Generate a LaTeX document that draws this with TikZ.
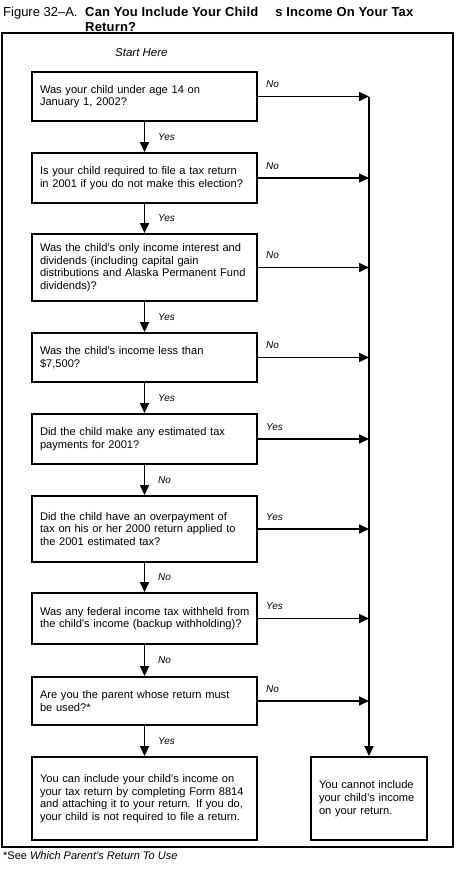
\documentclass[tikz,border=0pt]{standalone}
\usepackage{fontspec}
\setmainfont{Liberation Sans}
\usetikzlibrary{arrows.meta,calc}
\begin{document}
\begin{tikzpicture}[x=1pt,y=-1pt,
  qbox/.style={draw, line width=2pt, minimum width=225pt, text width=209pt, inner xsep=8pt, inner ysep=0pt, align=left, font=\fontsize{11.1}{12.7}\selectfont},
  rbox/.style={draw, line width=2pt, minimum width=116pt, text width=100pt, inner xsep=8pt, inner ysep=0pt, align=left, font=\fontsize{11.1}{12.7}\selectfont},
  lab/.style={font=\fontsize{10}{12}\selectfont\itshape, inner sep=0pt, anchor=west},
  conn/.style={line width=1.6pt, -{Triangle[length=10pt,width=9pt]}},
  spine/.style={line width=2pt, -{Triangle[length=10pt,width=9pt]}}]
\useasboundingbox (0,0) rectangle (456,879);
\fill[white] (0,0) rectangle (456,879);
% title
\node[anchor=base west, inner sep=0pt, font=\fontsize{13}{15}\selectfont] (tfig) at (3,16) {Figure 32--A.};
\node[anchor=base west, inner sep=0pt, font=\fontsize{13}{15}\selectfont\bfseries\addfontfeatures{LetterSpace=1.4}] (t1) at (85,16) {Can You Include Your Child\hspace{17pt}s Income On Your Tax};
\node[anchor=base west, inner sep=0pt, font=\fontsize{13}{15}\selectfont\bfseries\addfontfeatures{LetterSpace=1.4}] (t2) at (85,31) {Return?};
% frame
\node[draw, line width=2pt, minimum width=451pt, minimum height=814pt, inner sep=0pt] (frame) at (227.5,440) {};
\node[anchor=base west, inner sep=0pt, font=\fontsize{11.5}{13}\selectfont\itshape] (start) at (115,56) {Start Here};
% question boxes
\node[qbox, minimum height=49pt] (b1) at (144.5,96.5) {\mbox{Was your child under age 14 on}\\January 1, 2002?};
\node[qbox, minimum height=50pt] (b2) at (144.5,178) {\mbox{Is your child required to file a tax return}\\\mbox{in 2001 if you do not make this election?}};
\node[qbox, minimum height=67pt] (b3) at (144.5,267.5) {\mbox{Was the child's only income interest and}\\dividends (including capital gain\\\mbox{distributions and Alaska Permanent Fund}\\dividends)?};
\node[qbox, minimum height=49pt] (b4) at (144.5,357.5) {Was the child's income less than\\\$7,500?};
\node[qbox, minimum height=50pt] (b5) at (144.5,439) {Did the child make any estimated tax\\payments for 2001?};
\node[qbox, minimum height=66pt] (b6) at (144.5,529) {\mbox{Did the child have an overpayment of}\\\mbox{tax on his or her 2000 return applied to}\\the 2001 estimated tax?};
\node[qbox, minimum height=51pt] (b7) at (144.5,618.5) {\mbox{Was any federal income tax withheld from}\\\mbox{the child's income (backup withholding)?}};
\node[qbox, minimum height=48pt] (b8) at (144.5,701) {\mbox{Are you the parent whose return must}\\be used?*};
\node[qbox, minimum height=83pt] (b9) at (144.5,798.5) {\mbox{You can include your child's income on}\\\mbox{your tax return by completing Form 8814}\\\mbox{and attaching it to your return. If you do,}\\\mbox{your child is not required to file a return.}};
\node[rbox, minimum height=83pt] (rb) at (369,798.5) {\mbox{You cannot include}\\\mbox{your child's income}\\on your return.};
% spine
\coordinate (sTop) at (b1.east -| rb.north);
\draw[spine] (sTop) -- (rb.north);
% horizontal connectors
\foreach \b/\t/\n in {b1/No/h1, b2/No/h2, b3/No/h3, b4/No/h4, b5/Yes/h5, b6/Yes/h6, b7/Yes/h7, b8/No/h8} {
  \draw[conn] (\b.east) -- (\b.east -| rb.north);
  \node[lab] (\n) at ([xshift=8pt,yshift=12pt]\b.east) {\t};
}
% vertical connectors
\foreach \a/\b/\t/\n in {b1/b2/Yes/v1, b2/b3/Yes/v2, b3/b4/Yes/v3, b4/b5/Yes/v4, b5/b6/No/v5, b6/b7/No/v6, b7/b8/No/v7, b8/b9/Yes/v8} {
  \draw[conn] (\a.south) -- (\b.north);
  \node[lab] (\n) at ([xshift=13.5pt]$(\a.south)!0.5!(\b.north)$) {\t};
}
% footnote
\node[anchor=base west, inner sep=0pt, font=\fontsize{11}{13}\selectfont] (foot) at (3,859) {*See \textit{Which Parent's Return To Use}};
\end{tikzpicture}
\end{document}
